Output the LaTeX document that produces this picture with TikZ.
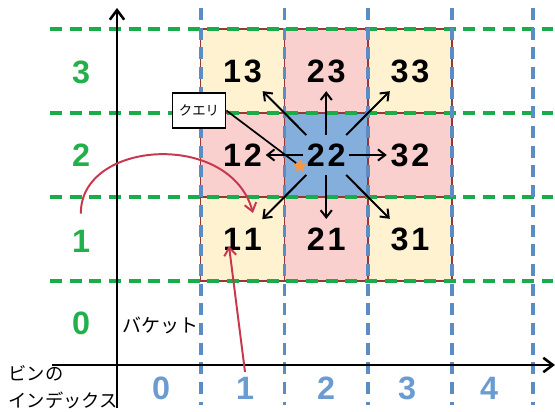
\documentclass[tikz,border=0pt]{standalone}
\usepackage{fontspec}
\setmainfont{Liberation Sans}
\newfontfamily\jpfont{Noto Sans CJK JP}
\usetikzlibrary{arrows.meta,shapes.geometric}
\definecolor{cellyellow}{HTML}{FFF2D1}
\definecolor{cellpink}{HTML}{F9D0CD}
\definecolor{cellblue}{HTML}{84AFDC}
\definecolor{cellrim}{HTML}{953735}
\definecolor{gridgreen}{HTML}{1AAB4B}
\definecolor{gridblue}{HTML}{5C8CC4}
\definecolor{binred}{HTML}{C8374D}
\definecolor{labgreen}{HTML}{22B04B}
\definecolor{labblue}{HTML}{6A9BD1}
\definecolor{queryorange}{HTML}{F79646}

\begin{document}
\begin{tikzpicture}[x=0.025cm, y=-0.025cm,
	cellnum/.style={font=\fontsize{23}{23}\selectfont\bfseries, inner xsep=2.5pt, inner ysep=6pt},
	rowlab/.style={font=\fontsize{23}{23}\selectfont\bfseries, text=labgreen},
	binlab/.style={font=\fontsize{23}{23}\selectfont\bfseries, text=labblue},
	jptext/.style={font=\jpfont\fontsize{13.5}{16}\selectfont, inner sep=1pt},
	greendash/.style={gridgreen, line width=2.3pt, dash pattern=on 8.5pt off 5.5pt},
	bluedash/.style={gridblue, line width=2.3pt, dash pattern=on 8.5pt off 5.5pt},
	axisline/.style={line width=1.8pt, -{Straight Barb[length=2.4mm, width=3.6mm]}},
	nbr/.style={line width=1.4pt, -{Straight Barb[length=1.8mm, width=2.8mm]}},
	binarrow/.style={binred, line width=1.4pt, -{Straight Barb[length=2mm, width=3mm]}}]
	\useasboundingbox (0,0) rectangle (555,412);
	% cells
	\foreach \i/\j/\c in {1/3/cellyellow, 2/3/cellpink, 3/3/cellyellow, 1/2/cellpink, 2/2/cellblue, 3/2/cellpink, 1/1/cellyellow, 2/1/cellpink, 3/1/cellyellow}
		\filldraw[fill=\c, draw=cellrim, line width=1pt] ({117+83.7*\i},{281-84*\j}) rectangle ({117+83.7*(\i+1)},{281-84*(\j-1)});
	% grid lines
	\foreach \y in {29,113,197,281}
		\draw[greendash] (50,\y) -- (553,\y);
	\foreach \x in {201,284.5,368,452,533}
		\draw[bluedash] (\x,8) -- (\x,405);
	% axes
	\draw[axisline] (117,408) -- (117,8);
	\draw[axisline] (52,365) -- (555,365);
	\foreach \j/\y in {0/323,1/241,2/155,3/72}
		\node[rowlab] (by\j) at (81,\y) {\j};
	\foreach \i/\x in {0/161,1/245,2/326,3/407,4/489}
		\node[binlab] (bx\i) at (\x,388) {\i};
	\node[jptext, anchor=west] (bucket) at (121,325) {バケット};
	\node[jptext, anchor=north west, align=left, font=\jpfont\fontsize{13}{19}\selectfont] (binindex) at (7,364) {ビンの\\インデックス};
	% bucket numbers
	\foreach \i/\j in {1/3,2/3,3/3,1/2,2/2,3/2,1/1,2/1,3/1}
		\node[cellnum] (n\i\j) at ({117+83.7*(\i+0.5)},{281-84*(\j-0.5)}) {\i\kern2pt\j};
	\foreach \t in {13,23,33,12,32,11,21,31}
		\draw[nbr] (n22) -- (n\t);
	% query
	\node[star, star points=5, star point ratio=2.3, fill=queryorange, minimum size=11pt, inner sep=0pt] (qstar) at (300,166) {};
	\node[draw, fill=white, line width=0.9pt, font=\jpfont\fontsize{9.5}{10}\selectfont, minimum width=38pt, minimum height=25pt] (qbox) at (199,110.5) {クエリ};
	\draw[line width=1.2pt] (qbox.east) -- (qstar);
	% bin index to bucket
	\coordinate (hit11a) at (253,213);
	\coordinate (hit11b) at (229,246);
	\draw[binarrow, shorten <=8pt] (by1.north) .. controls (80,140) and (230,130) .. (hit11a);
	\draw[binarrow] (bx1.north) -- (hit11b);
\end{tikzpicture}
\end{document}
